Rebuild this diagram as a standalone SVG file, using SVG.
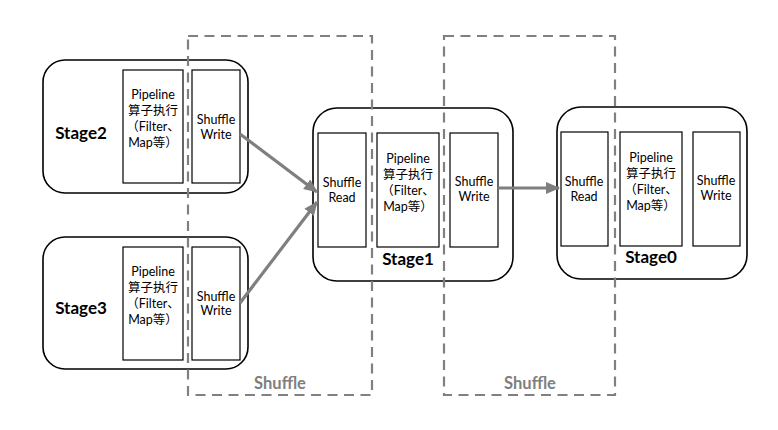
<svg xmlns="http://www.w3.org/2000/svg" width="778" height="430" viewBox="0 0 778 430">
<style>
.stage{fill:#fff;stroke:#000;stroke-width:1.6}
.inner{fill:#fff;stroke:#000;stroke-width:1.2}
.t{font-family:Lato,"Noto Sans","Noto Sans CJK SC",sans-serif;font-size:12.5px;fill:#000;text-anchor:middle}
.st{font-family:Lato,"Noto Sans",sans-serif;font-size:17px;font-weight:bold;fill:#000;text-anchor:middle}
.dash{fill:none;stroke:#808080;stroke-width:2.2;stroke-dasharray:10 6.5}
.sh{font-family:Lato,"Noto Sans",sans-serif;font-size:16.5px;font-weight:bold;fill:#7f7f7f;text-anchor:middle}
.conn{stroke:#7f7f7f;stroke-width:3.2;fill:none;marker-end:url(#ah)}
</style>
<defs>
<marker id="ah" markerUnits="userSpaceOnUse" markerWidth="14" markerHeight="12" refX="13" refY="6" orient="auto">
<path d="M0,0 L14,6 L0,12 Z" fill="#7f7f7f"/>
</marker>
</defs>
<rect width="778" height="430" fill="#fff"/>

<g id="stage2">
<rect class="stage" x="43" y="60" width="205" height="133" rx="22"/>
<text class="st" x="81" y="139">Stage2</text>
<rect class="inner" x="123" y="70" width="60" height="113"/>
<text class="t" x="153" y="99">Pipeline</text>
<text class="t" x="153" y="115">算子执行</text>
<text class="t" x="153" y="131">（Filter、</text>
<text class="t" x="153" y="147">Map等）</text>
<rect class="inner" x="192" y="70" width="48" height="113"/>
<text class="t" x="216" y="124">Shuffle</text>
<text class="t" x="216" y="139">Write</text>
</g>

<g id="stage3">
<rect class="stage" x="43" y="237" width="205" height="132" rx="22"/>
<text class="st" x="81" y="314">Stage3</text>
<rect class="inner" x="123" y="247" width="60" height="113"/>
<text class="t" x="153" y="276">Pipeline</text>
<text class="t" x="153" y="292">算子执行</text>
<text class="t" x="153" y="308">（Filter、</text>
<text class="t" x="153" y="324">Map等）</text>
<rect class="inner" x="192" y="247" width="48" height="113"/>
<text class="t" x="216" y="301">Shuffle</text>
<text class="t" x="216" y="315">Write</text>
</g>

<g id="stage1">
<rect class="stage" x="313" y="108" width="200" height="173" rx="24"/>
<text class="st" x="408" y="265">Stage1</text>
<rect class="inner" x="318" y="133" width="48" height="114"/>
<text class="t" x="342" y="187">Shuffle</text>
<text class="t" x="342" y="202">Read</text>
<rect class="inner" x="377" y="133" width="62" height="114"/>
<text class="t" x="408" y="163">Pipeline</text>
<text class="t" x="408" y="179">算子执行</text>
<text class="t" x="408" y="195">（Filter、</text>
<text class="t" x="408" y="211">Map等）</text>
<rect class="inner" x="450" y="133" width="48" height="114"/>
<text class="t" x="474" y="186">Shuffle</text>
<text class="t" x="474" y="201">Write</text>
</g>

<g id="stage0">
<rect class="stage" x="557" y="107" width="190" height="172" rx="24"/>
<text class="st" x="651" y="263">Stage0</text>
<rect class="inner" x="561" y="132" width="47" height="114"/>
<text class="t" x="584" y="186">Shuffle</text>
<text class="t" x="584" y="201">Read</text>
<rect class="inner" x="620" y="132" width="62" height="114"/>
<text class="t" x="651" y="162">Pipeline</text>
<text class="t" x="651" y="178">算子执行</text>
<text class="t" x="651" y="194">（Filter、</text>
<text class="t" x="651" y="210">Map等）</text>
<rect class="inner" x="693" y="132" width="47" height="114"/>
<text class="t" x="716" y="185">Shuffle</text>
<text class="t" x="716" y="200">Write</text>
</g>

<g id="shuffle1">
<rect class="dash" x="188" y="36" width="184" height="359"/>
<text class="sh" x="280" y="389">Shuffle</text>
</g>
<g id="shuffle2">
<rect class="dash" x="444" y="36" width="171" height="359"/>
<text class="sh" x="530" y="389">Shuffle</text>
</g>

<g id="connectors">
<line class="conn" x1="240" y1="134" x2="317" y2="192"/>
<line class="conn" x1="240" y1="303" x2="317" y2="202"/>
<line class="conn" x1="498" y1="188" x2="559" y2="188"/>
</g>
</svg>
